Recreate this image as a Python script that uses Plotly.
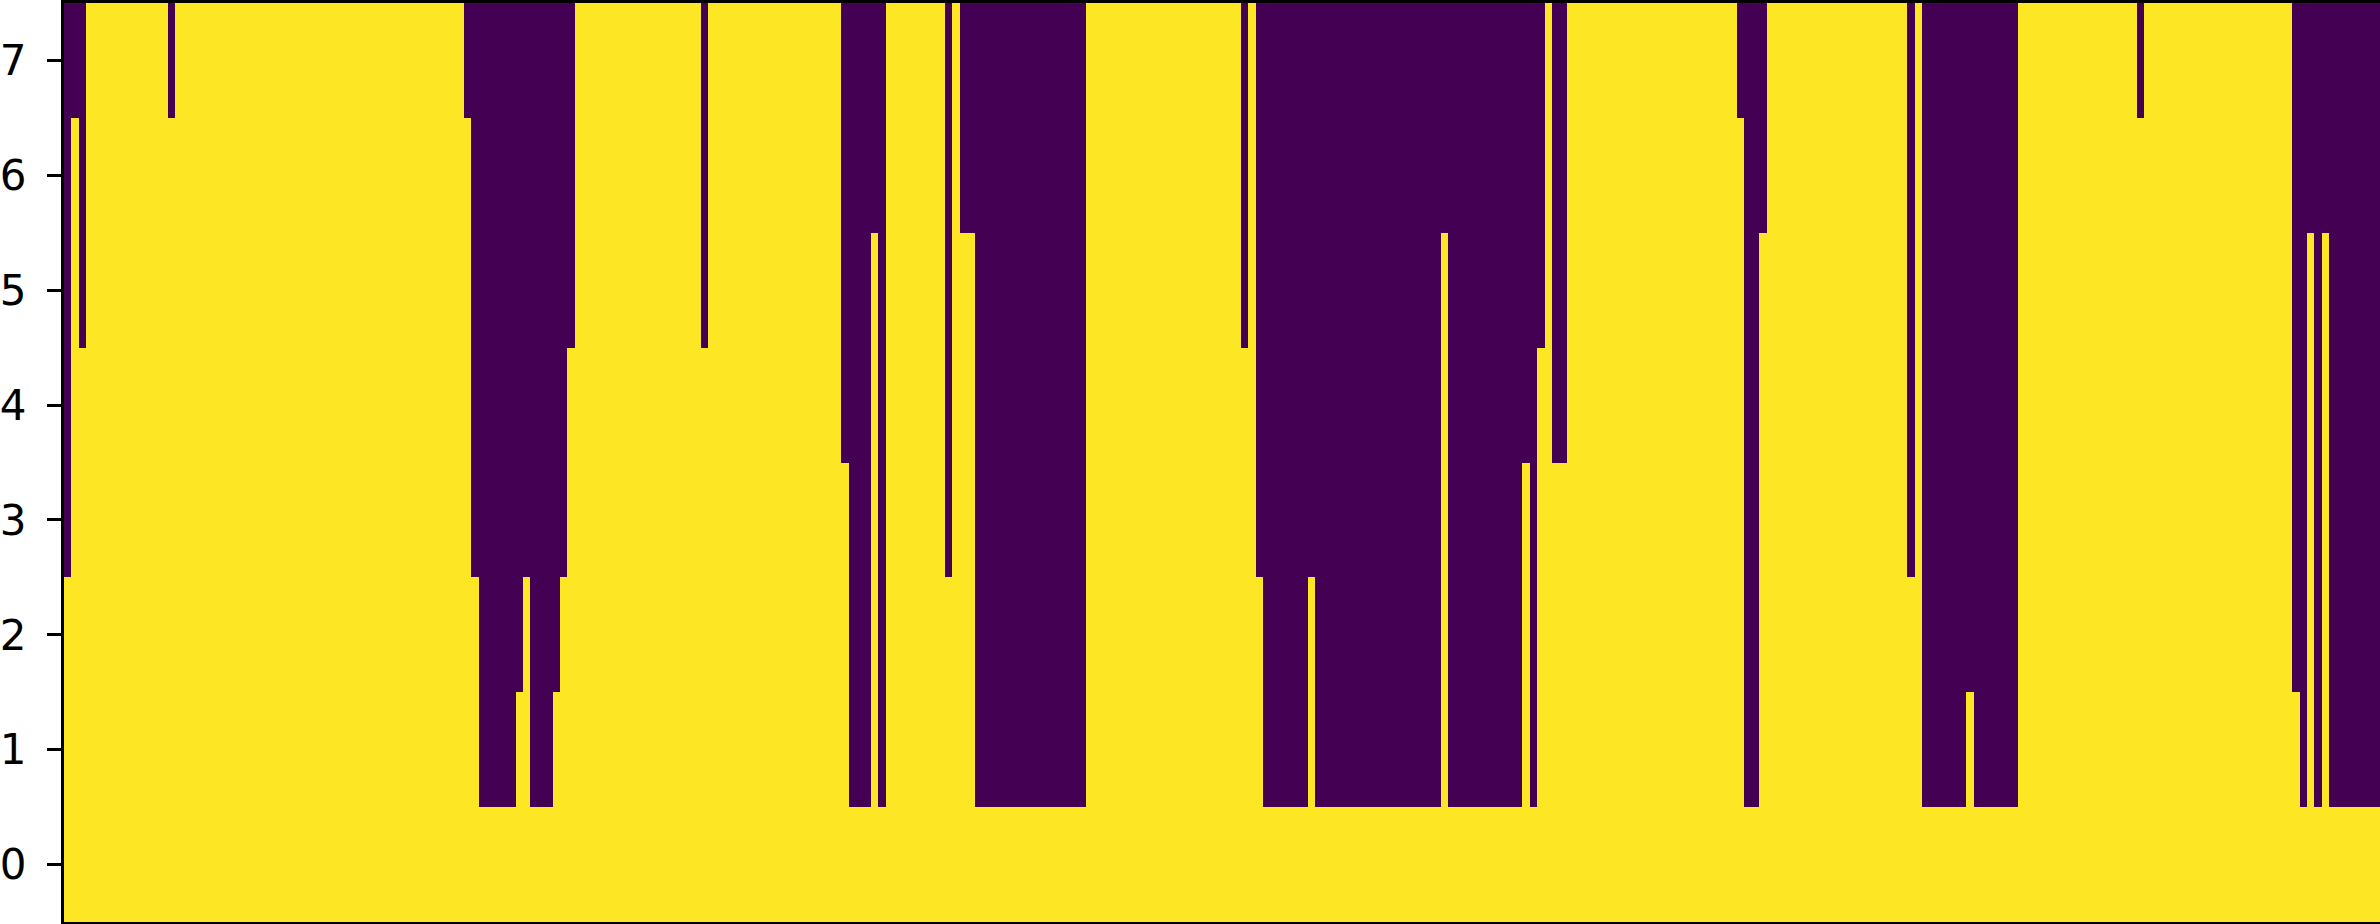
import plotly.graph_objects as go

# Each column: index of the highest yellow (value 1) row; rows above are 0.
# Run-length encoded: level per run and number of columns in that run.
run_levels = [2, 6, 4, 7, 6, 7, 6, 2, 0, 1, 2, 0, 1, 2, 4, 7, 4, 7, 3, 0, 5, 0, 7, 2, 7, 5, 0,
              7, 4, 7, 2, 0, 2, 0, 5, 0, 3, 0, 4, 7, 3, 7, 6, 0, 5, 7, 2, 7, 0, 1, 0, 7, 6, 7,
              1, 0, 5, 0, 5, 0]
run_lengths = [1, 1, 1, 11, 1, 39, 1, 1, 5, 1, 1, 3, 1, 1, 1, 17, 1, 18, 1, 3, 1, 1, 8, 1, 1, 2, 15,
               21, 1, 1, 1, 6, 1, 17, 1, 10, 1, 1, 1, 1, 2, 23, 1, 2, 1, 19, 1, 1, 6, 1, 6, 16, 1, 20,
               1, 1, 1, 1, 1, 7]
row_labels = [0, 1, 2, 3, 4, 5, 6, 7]

levels = []
for lv, n in zip(run_levels, run_lengths):
    levels.extend([lv] * n)
n_cols = len(levels)

z = [[1 if r <= levels[c] else 0 for c in range(n_cols)] for r in row_labels]

fig = go.Figure(go.Heatmap(
    z=z,
    x=list(range(n_cols)),
    y=row_labels,
    colorscale=[[0, "#440154"], [1, "#fde725"]],
    zmin=0, zmax=1,
    showscale=False,
    hoverinfo="skip",
))

fig.update_layout(
    width=2380, height=924,
    margin=dict(l=57, r=0, t=1, b=2),
    paper_bgcolor="white", plot_bgcolor="white",
    font=dict(family="DejaVu Sans", size=42, color="black"),
    showlegend=False,
)
fig.update_xaxes(
    range=[-0.5, n_cols - 0.6],
    showticklabels=False, ticks="",
    showgrid=False, zeroline=False,
    showline=True, linecolor="black", linewidth=3, mirror=True,
)
fig.update_yaxes(
    range=[-0.5, 7.5],
    tickmode="array", tickvals=row_labels, ticktext=[str(v) for v in row_labels],
    ticks="outside", ticklen=14, tickwidth=3, tickcolor="black",
    ticklabelstandoff=12,
    showgrid=False, zeroline=False,
    showline=True, linecolor="black", linewidth=3,
)

fig.write_html(
    "out.html",
    config={"displayModeBar": False},
    post_script="document.body.style.margin='0';document.body.style.overflow='hidden';",
)
